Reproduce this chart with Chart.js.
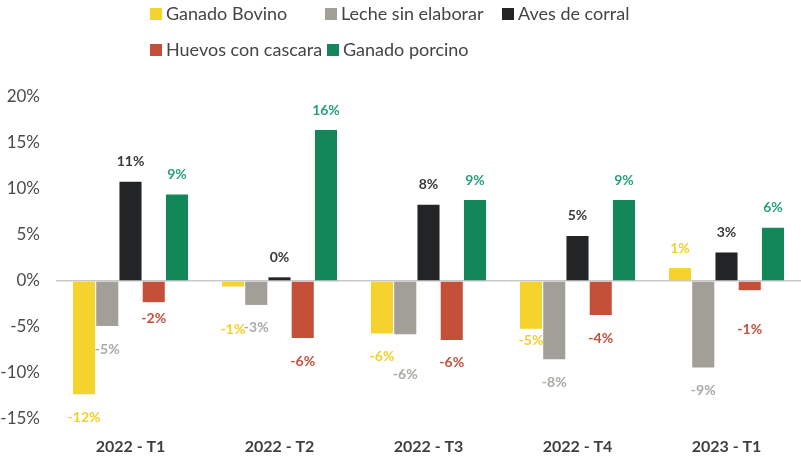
<!DOCTYPE html>
<html>
<head>
<meta charset="utf-8">
<script src="https://cdn.jsdelivr.net/npm/chart.js@4"></script>
<style>
  html, body { margin: 0; padding: 0; background: #fff; }
  #wrap { width: 801px; height: 458px; }
</style>
</head>
<body>
<div id="wrap"><canvas id="chart" width="801" height="458"></canvas></div>
<script>
// categories and series (percent change)
const quarters = ['2022 - T1', '2022 - T2', '2022 - T3', '2022 - T4', '2023 - T1'];
const seriesNames = ['Ganado Bovino', 'Leche sin elaborar', 'Aves de corral', 'Huevos con cascara', 'Ganado porcino'];
const bovino  = [-12.3, -0.6, -5.7, -5.2,  1.4];
const leche   = [ -4.9, -2.6, -5.8, -8.5, -9.4];
const aves    = [ 10.8,  0.4,  8.3,  4.9,  3.1];
const huevos  = [ -2.3, -6.2, -6.4, -3.7, -1.0];
const porcino = [  9.4, 16.4,  8.8,  8.8,  5.8];
const yTicks  = [-15, -10, -5, 0, 5, 10, 15, 20];

const barColors   = ['#F6D22C', '#A29F98', '#232425', '#C5503A', '#13875A'];
const labelColors = ['#F3CF2A', '#ABA9A5', '#3A3A3A', '#C5503A', '#25A274'];
const FONT = 'Lato, "Open Sans", sans-serif';

const datasets = [bovino, leche, aves, huevos, porcino].map((data, i) => ({
  label: seriesNames[i],
  data,
  backgroundColor: barColors[i],
  categoryPercentage: .78,
  barPercentage: .95
}));

// value labels above / below each bar
const valueLabels = {
  id: 'valueLabels',
  afterDatasetsDraw(chart, args, opts) {
    const ctx = chart.ctx;
    ctx.save();
    ctx.font = 'bold 14px ' + FONT;
    ctx.textAlign = 'center';
    ctx.textBaseline = 'middle';
    chart.data.datasets.forEach((ds, di) => {
      chart.getDatasetMeta(di).data.forEach((bar, i) => {
        const v = ds.data[i];
        const nudge = opts.nudge[di + ':' + i] || 0;
        const y = (v >= 0 ? bar.y - 20 : bar.y + 23) + nudge;
        ctx.fillStyle = labelColors[di];
        ctx.fillText(Math.round(v) + '%', bar.x, y);
      });
    });
    ctx.restore();
  }
};

// legend laid out in two rows like the original
const twoRowLegend = {
  id: 'twoRowLegend',
  afterDraw(chart, args, opts) {
    const ctx = chart.ctx;
    ctx.save();
    ctx.font = '18px ' + FONT;
    ctx.textBaseline = 'middle';
    chart.data.datasets.forEach((ds, i) => {
      const [x, y] = opts.pos[i];
      ctx.fillStyle = ds.backgroundColor;
      ctx.fillRect(x, y - 6, 12, 12);
      ctx.fillStyle = '#444';
      ctx.fillText(ds.label, x + 16, y);
    });
    ctx.restore();
  }
};

new Chart(document.getElementById('chart'), {
  type: 'bar',
  data: { labels: quarters, datasets },
  plugins: [valueLabels, twoRowLegend],
  options: {
    responsive: false,
    animation: false,
    layout: { padding: { top: 97, right: 0, bottom: 0, left: 0 } },
    plugins: {
      legend : { display: false },
      tooltip: { enabled: false },
      valueLabels: { nudge: { '0:1': 20, '1:2': 17, '3:4': 16, '0:3': -11, '3:0': -7 } },
      twoRowLegend: { pos: [[150, 14], [325, 14], [502, 14], [150, 50], [327, 50]] }
    },
    scales: {
      x: {
        grid  : { display: false },
        border: { display: false },
        afterFit: s => { s.height = 39; },
        ticks : { color: '#404040', padding: 10, font: { family: FONT, size: 16, weight: 'bold' } }
      },
      y: {
        min: yTicks[0],
        max: yTicks[yTicks.length - 1],
        afterBuildTicks: s => { s.ticks = yTicks.map(v => ({ value: v })); },
        afterFit: s => { s.width = 56; },
        border: { display: false },
        grid  : {
          drawTicks: false,
          color: c => c.tick && c.tick.value === 0 ? '#C8C8C8' : 'transparent',
          lineWidth: 1.5
        },
        ticks : {
          padding: 16,
          color: '#4A4A4A',
          font: { family: FONT, size: 17 },
          callback: v => v + '%'
        }
      }
    }
  }
});
</script>
</body>
</html>
